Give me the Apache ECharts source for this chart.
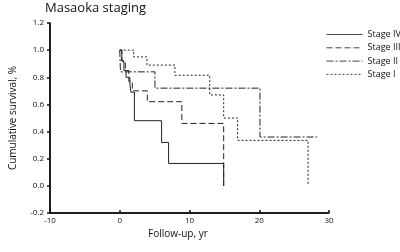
<!DOCTYPE html>
<html>
<head>
<meta charset="utf-8">
<script src="https://cdn.jsdelivr.net/npm/echarts@6/dist/echarts.min.js"></script>
<style>
html, body { margin: 0; padding: 0; background: #fff; }
#chart { width: 400px; height: 252px; }
</style>
</head>
<body>
<div id="chart"></div>
<script>
// 分期名称
var stageNames = ['Stage IV', 'Stage III', 'Stage II', 'Stage I'];

// 生存曲线 (时间, 年 / 累计生存率)
var stageIVTime = [0, 0.3, 0.6, 0.9, 1.45, 1.6, 2.1, 6.0, 7.0, 14.9];
var stageIVSurv = [1.0, 0.92, 0.85, 0.80, 0.75, 0.69, 0.48, 0.32, 0.165, 0.0];

var stageIIITime = [0, 0.3, 0.8, 1.3, 1.8, 3.95, 8.9, 14.9];
var stageIIISurv = [1.0, 0.92, 0.85, 0.77, 0.70, 0.62, 0.46, 0.0];

var stageIITime = [0, 0.1, 5.05, 20.1, 28.3];
var stageIISurv = [1.0, 0.84, 0.72, 0.36, 0.36];

var stageITime = [0, 2.0, 3.9, 7.9, 12.9, 14.9, 16.9, 27.0];
var stageISurv = [1.0, 0.95, 0.89, 0.815, 0.67, 0.50, 0.335, 0.0];

// 坐标轴刻度
var xTicks = [-10, 0, 10, 20, 30];
var yTicks = [-0.2, 0.0, 0.2, 0.4, 0.6, 0.8, 1.0, 1.2];

var fontFamily = '"Open Sans", "DejaVu Sans", sans-serif';
var lineColor = '#222';
var axisColor = '#111';

function pairs(times, surv) {
	var out = [];
	for (var i = 0; i < times.length; i++) {
		out.push([times[i], surv[i]]);
	}
	return out;
}

function kmSeries(name, times, surv, dash) {
	return {
		name : name,
		type : 'line',
		step : 'end',
		symbol : 'none',
		data : pairs(times, surv),
		lineStyle : {
			color : lineColor,
			width : 1,
			type : dash
		}
	};
}

var series = [
	kmSeries(stageNames[0], stageIVTime, stageIVSurv, 'solid'),
	kmSeries(stageNames[1], stageIIITime, stageIIISurv, [6, 3]),
	kmSeries(stageNames[2], stageIITime, stageIISurv, [7, 2, 2, 2]),
	kmSeries(stageNames[3], stageITime, stageISurv, [2, 2])
];
/* 坐标轴线 (按刻度最小值画, 和轴线重合) */
series[0].markLine = {
	silent : true,
	symbol : 'none',
	animation : false,
	label : {
		show : false
	},
	lineStyle : {
		color : axisColor,
		width : 1.5,
		type : 'solid'
	},
	data : [ {
		yAxis : yTicks[0]
	}, {
		xAxis : xTicks[0]
	} ]
};

var myChart = echarts.init(document.getElementById('chart'));

var option = {
	animation : false,
	title : [ {
		text : 'Masaoka staging',
		left : 40,
		top : -3,
		textStyle : {
			fontSize : 13,
			fontWeight : 'normal',
			color : '#111',
			fontFamily : fontFamily
		}
	}, {
		text : 'Follow-up, yr',
		left : 143,
		top : 224,
		textStyle : {
			fontSize : 10,
			fontWeight : 'normal',
			color : '#111',
			fontFamily : fontFamily
		}
	} ],
	legend : {
		orient : 'vertical',
		left : 326,
		top : 30,
		padding : 0,
		itemWidth : 36,
		itemHeight : 10,
		itemGap : 4.3,
		data : stageNames,
		itemStyle : {
			opacity : 0
		},
		lineStyle : {
			width : 1,
			color : '#444'
		},
		textStyle : {
			fontSize : 9,
			color : '#111',
			fontFamily : fontFamily
		}
	},
	grid : {
		left : 44,
		right : 71,
		top : 23,
		bottom : 39
	},
	xAxis : {
		type : 'value',
		min : xTicks[0],
		max : xTicks[xTicks.length - 1],
		interval : 10,
		axisLine : {
			show : true,
			onZero : false,
			lineStyle : {
				color : axisColor,
				width : 1.5
			}
		},
		axisTick : {
			show : true,
			inside : true,
			length : 3,
			lineStyle : {
				color : axisColor,
				width : 1.5
			}
		},
		axisLabel : {
			fontSize : 8,
			color : '#111',
			fontFamily : fontFamily,
			margin : 4
		},
		splitLine : {
			show : false
		}
	},
	yAxis : {
		type : 'value',
		min : yTicks[0],
		max : yTicks[yTicks.length - 1],
		interval : 0.2,
		name : 'Cumulative survival, %',
		nameLocation : 'middle',
		nameGap : 32,
		nameTextStyle : {
			fontSize : 10,
			color : '#111',
			fontFamily : fontFamily
		},
		axisLine : {
			show : true,
			onZero : false,
			lineStyle : {
				color : axisColor,
				width : 1.5
			}
		},
		axisTick : {
			show : true,
			length : 3,
			lineStyle : {
				color : axisColor,
				width : 1.5
			}
		},
		axisLabel : {
			fontSize : 8,
			color : '#111',
			fontFamily : fontFamily,
			margin : 6,
			formatter : function(v) {
				return v.toFixed(1);
			}
		},
		splitLine : {
			show : false
		}
	},
	series : series
};

myChart.setOption(option);
</script>
</body>
</html>
